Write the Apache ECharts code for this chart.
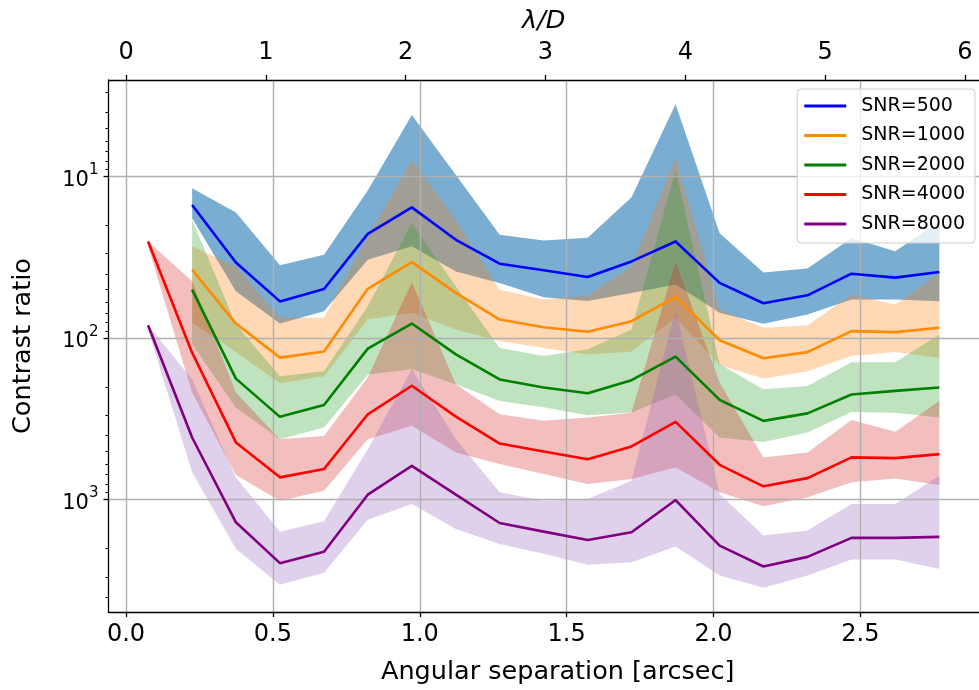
<!DOCTYPE html>
<html>
<head>
<meta charset="utf-8">
<script src="https://cdn.jsdelivr.net/npm/echarts@6/dist/echarts.min.js"></script>
<style>
  html, body { margin: 0; padding: 0; background: #ffffff; }
  #chart { width: 979px; height: 690px; }
</style>
</head>
<body>
<div id="chart"></div>
<script>
// Angular separation of each sample (arcsec)
const sepLong  = [0.075, 0.225, 0.374, 0.524, 0.674, 0.823, 0.973, 1.123, 1.272, 1.422,
                  1.572, 1.721, 1.871, 2.021, 2.170, 2.320, 2.470, 2.619, 2.769];
const sepShort = [0.225, 0.374, 0.524, 0.674, 0.823, 0.973, 1.123, 1.272, 1.422,
                  1.572, 1.721, 1.871, 2.021, 2.170, 2.320, 2.470, 2.619, 2.769];

// SNR = 500
const snr500     = [15.0, 34.0, 59.2, 49.6, 22.6, 15.5, 24.6, 34.6, 38.0, 41.8, 33.5, 25.2, 45.5, 60.8, 54.3, 39.9, 42.2, 38.9];
const snr500Low  = [11.8, 16.7, 35.4, 30.4, 12.2, 4.16, 9.76, 22.9, 24.9, 23.9, 13.4, 3.56, 22.4, 39.2, 37.1, 24.0, 29.0, 19.0];
const snr500High = [18.1, 51.3, 81.1, 68.1, 32.7, 27.0, 38.6, 45.5, 55.8, 58.8, 52.5, 46.6, 69.7, 81.5, 71.4, 57.7, 57.7, 59.1];

// SNR = 1000
const snr1000     = [37.7, 81.2, 132, 121, 49.5, 33.8, 52.4, 76.7, 85.5, 91.3, 78.5, 55.5, 103, 133, 122, 90.5, 91.8, 86.3];
const snr1000Low  = [27.0, 35.9, 74.8, 74.8, 23.5, 7.89, 18.5, 50.1, 57.7, 54.5, 35.9, 7.70, 66.5, 86.3, 83.5, 53.7, 61.9, 39.5];
const snr1000High = [80.4, 122, 190, 172, 76.7, 69.7, 88.4, 104, 115, 126, 121, 74.5, 147, 178, 160, 129, 122, 132];

// SNR = 2000
const snr2000     = [50.1, 178, 307, 259, 116, 81.2, 126, 180, 202, 219, 182, 130, 241, 325, 292, 223, 212, 202];
const snr2000Low  = [18.5, 82.3, 172, 160, 63.5, 19.4, 47.8, 115, 129, 117, 88.4, 9.1, 145, 207, 198, 141, 141, 94.8];
const snr2000High = [109, 269, 422, 357, 168, 156, 193, 245, 268, 300, 288, 223, 412, 439, 384, 286, 289, 310];

// SNR = 4000
const snr4000     = [25.2, 123, 442, 727, 646, 296, 197, 306, 449, 503, 561, 468, 330, 608, 826, 735, 547, 553, 522];
const snr4000Low  = [25.2, 44.5, 217, 422, 403, 175, 45.1, 193, 296, 325, 310, 289, 33.5, 189, 547, 510, 321, 380, 245];
const snr4000High = [27.0, 217, 704, 1015, 880, 422, 349, 510, 602, 694, 800, 745, 631, 900, 1099, 967, 781, 738, 811];

// SNR = 8000
const snr8000     = [83.2, 412, 1380, 2470, 2100, 931, 617, 931, 1393, 1576, 1774, 1589, 1005, 1923, 2592, 2259, 1723, 1723, 1699];
const snr8000Low  = [83.2, 180, 728, 1576, 1359, 487, 156, 422, 900, 1015, 990, 764, 66.5, 922, 1668, 1553, 1063, 1063, 711];
const snr8000High = [88.4, 677, 2015, 3364, 2834, 1329, 1063, 1517, 1877, 2163, 2531, 2435, 1950, 2944, 3508, 2944, 2345, 2345, 2679];

// Tick positions
const sepTicks      = [0, 0.5, 1.0, 1.5, 2.0, 2.5];
const lodTicks      = [0, 1, 2, 3, 4, 5, 6];
const contrastTicks = [10, 100, 1000];
const contrastMinor = [3, 4, 5, 6, 7, 8, 9, 20, 30, 40, 50, 60, 70, 80, 90,
                       200, 300, 400, 500, 600, 700, 800, 900, 2000, 3000, 4000];

// Axis ranges
const sepMin = -0.0597, sepMax = 2.904;
const arcsecToLod = 2.1008;           // one arcsec expressed in lambda/D
const contrastMin = 2.523, contrastMax = 4955;

const FONT = 'DejaVu Sans';

const sets = [
  { name: 'SNR=500',  x: sepShort, y: snr500,  lo: snr500Low,  hi: snr500High,  line: '#0000ff', fill: 'rgba(31,119,180,0.6)' },
  { name: 'SNR=1000', x: sepShort, y: snr1000, lo: snr1000Low, hi: snr1000High, line: '#ff8c00', fill: 'rgba(255,127,14,0.3)' },
  { name: 'SNR=2000', x: sepShort, y: snr2000, lo: snr2000Low, hi: snr2000High, line: '#008000', fill: 'rgba(44,160,44,0.3)' },
  { name: 'SNR=4000', x: sepLong,  y: snr4000, lo: snr4000Low, hi: snr4000High, line: '#ff0000', fill: 'rgba(214,39,40,0.3)' },
  { name: 'SNR=8000', x: sepLong,  y: snr8000, lo: snr8000Low, hi: snr8000High, line: '#800080', fill: 'rgba(148,103,189,0.3)' }
];

// Shaded band between the low and high curves, drawn as one polygon
function bandSeries(s) {
  const rows = s.x.map((x, i) => [x, s.lo[i], s.hi[i]]);
  return {
    type: 'custom',
    id: s.name + '-band',
    xAxisIndex: 0,
    yAxisIndex: 0,
    z: 0,
    silent: true,
    clip: true,
    encode: { x: 0, y: [1, 2] },
    data: rows,
    renderItem(params, api) {
      if (params.dataIndex !== 0) return null;
      const pts = [];
      for (let i = 0; i < rows.length; i++) pts.push(api.coord([rows[i][0], rows[i][1]]));
      for (let i = rows.length - 1; i >= 0; i--) pts.push(api.coord([rows[i][0], rows[i][2]]));
      return { type: 'polygon', shape: { points: pts }, style: { fill: s.fill, stroke: null } };
    }
  };
}

function lineSeries(s) {
  return {
    type: 'line',
    name: s.name,
    xAxisIndex: 0,
    yAxisIndex: 0,
    z: 3,
    symbol: 'none',
    showSymbol: false,
    clip: true,
    data: s.x.map((x, i) => [x, s.y[i]]),
    itemStyle: { color: s.line },
    lineStyle: { color: s.line, width: 2.6, join: 'round', cap: 'butt' },
    emphasis: { disabled: true }
  };
}

const axisLineStyle = { color: '#000000', width: 1.3 };
const gridLineStyle = { color: '#b0b0b0', width: 1.4 };

const chart = echarts.init(document.getElementById('chart'), null, { renderer: 'canvas' });
chart.setOption({
  animation: false,
  backgroundColor: '#ffffff',
  grid: { left: 108.5, right: -4.3, top: 80, bottom: 76.7, containLabel: false },
  legend: {
    data: sets.map(s => s.name),
    orient: 'vertical',
    right: 4,
    top: 89,
    z: 10,
    icon: 'rect',
    itemWidth: 42,
    itemHeight: 3,
    itemGap: 9.5,
    padding: [7, 10, 9, 7],
    backgroundColor: 'rgba(255,255,255,0.8)',
    borderColor: '#cccccc',
    borderWidth: 1,
    borderRadius: 4,
    selectedMode: false,
    textStyle: { fontFamily: FONT, fontSize: 19, color: '#000000', lineHeight: 20, padding: [0, 0, 0, 10] }
  },
  xAxis: [
    {
      type: 'value',
      position: 'bottom',
      min: sepMin,
      max: sepMax,
      z: 1,
      axisLine: { show: true, onZero: false, lineStyle: axisLineStyle },
      axisTick: { show: true, length: 5, customValues: sepTicks, lineStyle: axisLineStyle },
      axisLabel: {
        customValues: sepTicks,
        formatter: v => Number(v).toFixed(1),
        fontFamily: FONT, fontSize: 24, color: '#000000', margin: 11
      },
      splitLine: { show: true, lineStyle: gridLineStyle },
      name: 'Angular separation [arcsec]',
      nameLocation: 'middle',
      nameGap: 47,
      nameTextStyle: { fontFamily: FONT, fontSize: 25.5, color: '#000000', padding: [0, 0, 0, 28] }
    },
    {
      type: 'value',
      position: 'top',
      min: sepMin * arcsecToLod,
      max: sepMax * arcsecToLod,
      z: 1,
      axisLine: { show: true, onZero: false, lineStyle: axisLineStyle },
      axisTick: { show: true, length: 5, customValues: lodTicks, lineStyle: axisLineStyle },
      axisLabel: {
        customValues: lodTicks,
        formatter: v => String(Math.round(v)),
        fontFamily: FONT, fontSize: 24, color: '#000000', margin: 15
      },
      splitLine: { show: false },
      name: 'λ/D',
      nameLocation: 'middle',
      nameGap: 46,
      nameTextStyle: { fontFamily: FONT, fontSize: 25.5, fontStyle: 'italic', color: '#000000' }
    }
  ],
  yAxis: [
    {
      type: 'log',
      logBase: 10,
      inverse: true,
      min: contrastMin,
      max: contrastMax,
      position: 'left',
      z: 1,
      axisLine: { show: true, onZero: false, lineStyle: axisLineStyle },
      axisTick: { show: true, length: 5, customValues: contrastTicks, lineStyle: axisLineStyle },
      axisLabel: {
        customValues: contrastTicks,
        margin: 10,
        formatter: v => '{b|10}{s|' + Math.round(Math.log10(v)) + '}',
        rich: {
          b: { fontFamily: FONT, fontSize: 21, color: '#000000', lineHeight: 28, verticalAlign: 'bottom' },
          s: { fontFamily: FONT, fontSize: 15, color: '#000000', lineHeight: 15, verticalAlign: 'top' }
        }
      },
      splitLine: { show: true, lineStyle: gridLineStyle },
      name: 'Contrast ratio',
      nameLocation: 'middle',
      nameGap: 72,
      nameTextStyle: { fontFamily: FONT, fontSize: 25.5, color: '#000000' }
    },
    {
      type: 'log',
      logBase: 10,
      inverse: true,
      min: contrastMin,
      max: contrastMax,
      position: 'left',
      z: 1,
      axisLine: { show: false, onZero: false },
      axisTick: { show: true, length: 3, customValues: contrastMinor, lineStyle: { color: '#000000', width: 1 } },
      axisLabel: { show: false },
      splitLine: { show: false }
    }
  ],
  series: [
    ...sets.map(bandSeries),
    ...sets.map(lineSeries)
  ]
});
</script>
</body>
</html>
